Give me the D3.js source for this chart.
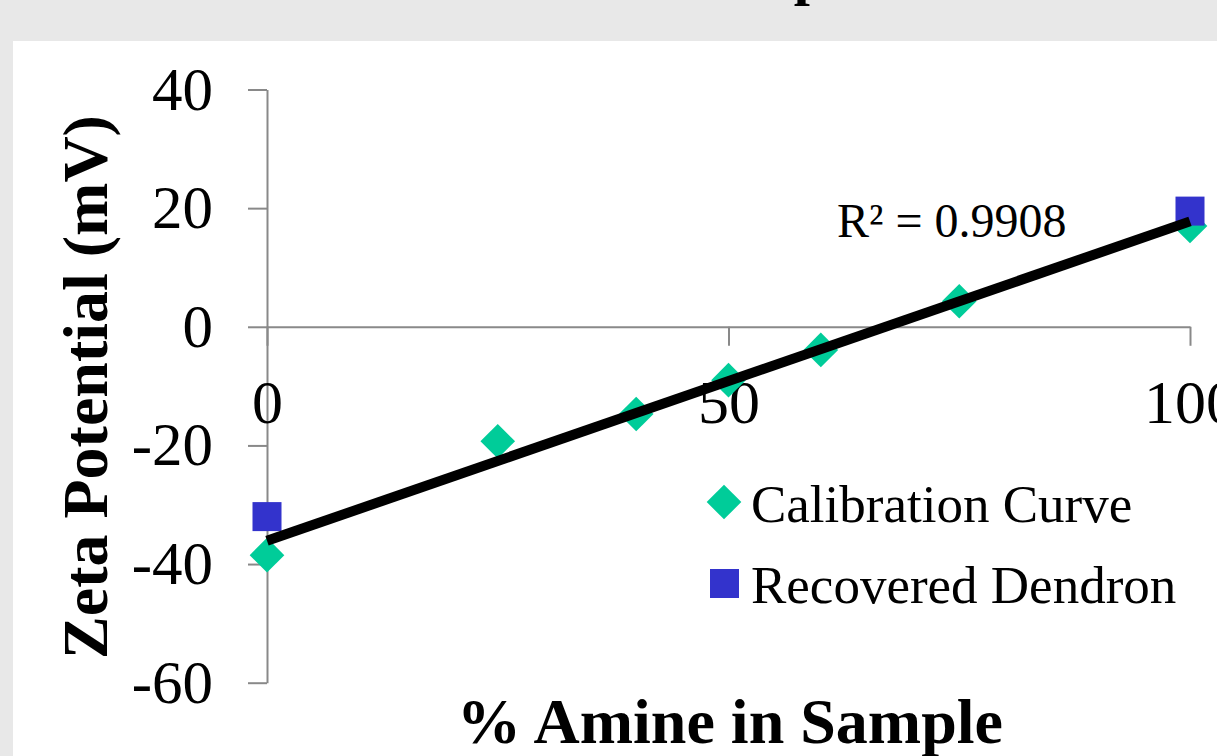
<!DOCTYPE html>
<html>
<head>
<meta charset="utf-8">
<script src="https://cdn.jsdelivr.net/npm/d3@7"></script>
<style>
  html, body { margin: 0; padding: 0; background: #e8e8e8; overflow: hidden; }
  svg { display: block; font-family: "Liberation Serif", "Times New Roman", serif; }
  .axis path, .axis line { stroke: #898989; stroke-width: 2; }
  .axis text { fill: #000; }
</style>
</head>
<body>
<svg id="chart" width="1217" height="756"></svg>
<script>
(function() {

  // calibration series
  var calibX = [0, 25, 40, 50, 60, 75, 100];
  var calibY = [-38.5, -19.3, -14.7, -9.0, -3.9, 4.3, 17.0];

  // recovered dendron series
  var recX = [0, 100];
  var recY = [-32.0, 19.5];

  var xTicks = [0, 50, 100];
  var yTicks = [-60, -40, -20, 0, 20, 40];

  var r2Label = "R² = 0.9908";
  var seriesNames = ["Calibration Curve", "Recovered Dendron"];

  var green = "#00cc99",
      blue = "#3333cc";

  var svg = d3.select('#chart');

  // white plot panel
  svg.append('rect')
      .attr('x', 13)
      .attr('y', 41)
      .attr('width', 1217)
      .attr('height', 756)
      .attr('fill', '#fff');

  // title, mostly cut off above the window
  var title = svg.append('text')
      .attr('y', -6.5)
      .attr('font-size', 58)
      .attr('font-weight', 'bold')
      .text("Zeta Potential Comparison");
  var pre = title.node().getSubStringLength(0, "Zeta Potential Com".length);
  var pw = title.node().getSubStringLength("Zeta Potential Com".length, 1);
  title.attr('x', 810 - pre - pw / 2);

  var xScale = d3.scaleLinear()
      .domain([0, 100])
      .range([267, 1190]);

  var yScale = d3.scaleLinear()
      .domain([-60, 40])
      .range([682.7, 89.5]);

  // y axis
  var yAxis = svg.append('g')
      .attr('class', 'axis y-axis')
      .attr('transform', 'translate(' + xScale(0) + ',0)')
      .call(d3.axisLeft(yScale)
        .tickValues(yTicks)
        .tickSize(19)
        .tickSizeOuter(0)
        .tickPadding(35)
        .tickFormat(function(d) { return String(d); }));
  yAxis.attr('font-family', null).attr('font-size', null);
  yAxis.selectAll('text')
      .attr('font-size', 61)
      .attr('dy', '0.32em');

  // x axis through zero
  var xAxis = svg.append('g')
      .attr('class', 'axis x-axis')
      .attr('transform', 'translate(0,' + yScale(0) + ')')
      .call(d3.axisBottom(xScale)
        .tickValues(xTicks)
        .tickSize(19)
        .tickSizeOuter(0)
        .tickFormat(function(d) { return String(d); }));
  xAxis.attr('font-family', null).attr('font-size', null);
  xAxis.selectAll('text')
      .attr('font-size', 62)
      .attr('y', 96)
      .attr('dy', 0);

  // trendline from least squares on the calibration points
  var mx = d3.mean(calibX), my = d3.mean(calibY);
  var sxy = d3.sum(calibX, function(d, i) { return (d - mx) * (calibY[i] - my); });
  var sxx = d3.sum(calibX, function(d) { return (d - mx) * (d - mx); });
  var slope = sxy / sxx, intercept = my - slope * mx;

  var diamond = d3.symbol().type(d3.symbolSquare).size(600);

  svg.append('g')
    .selectAll('path')
    .data(calibX)
    .enter().append('path')
      .attr('d', diamond)
      .attr('transform', function(d, i) {
        return 'translate(' + xScale(d) + ',' + yScale(calibY[i]) + ') rotate(45)';
      })
      .attr('fill', green);

  svg.append('g')
    .selectAll('rect')
    .data(recX)
    .enter().append('rect')
      .attr('x', function(d) { return xScale(d) - 14.5; })
      .attr('y', function(d, i) { return yScale(recY[i]) - 14.5; })
      .attr('width', 29)
      .attr('height', 29)
      .attr('fill', blue);

  var lineGenerator = d3.line()
      .x(function(d) { return xScale(d); })
      .y(function(d) { return yScale(slope * d + intercept); });

  svg.append('path')
      .attr('d', lineGenerator(d3.extent(calibX)))
      .attr('stroke', '#000')
      .attr('stroke-width', 10)
      .attr('fill', 'none');

  svg.append('text')
      .attr('x', 837)
      .attr('y', 237)
      .attr('font-size', 48)
      .text(r2Label);

  // legend
  var legend = svg.append('g');
  legend.append('path')
      .attr('d', diamond)
      .attr('transform', 'translate(724,502) rotate(45)')
      .attr('fill', green);
  legend.append('rect')
      .attr('x', 710)
      .attr('y', 569)
      .attr('width', 29)
      .attr('height', 29)
      .attr('fill', blue);
  legend.selectAll('text')
    .data(seriesNames)
    .enter().append('text')
      .attr('x', 751)
      .attr('y', function(d, i) { return 522 + i * 81; })
      .attr('font-size', 53)
      .text(function(d) { return d; });

  // axis titles
  svg.append('text')
      .attr('x', 730)
      .attr('y', 743)
      .attr('text-anchor', 'middle')
      .attr('font-size', 64)
      .attr('font-weight', 'bold')
      .text("% Amine in Sample");

  svg.append('text')
      .attr('transform', 'translate(107,387) rotate(-90)')
      .attr('text-anchor', 'middle')
      .attr('font-size', 64)
      .attr('font-weight', 'bold')
      .text("Zeta Potential (mV)");

})()
</script>
</body>
</html>
